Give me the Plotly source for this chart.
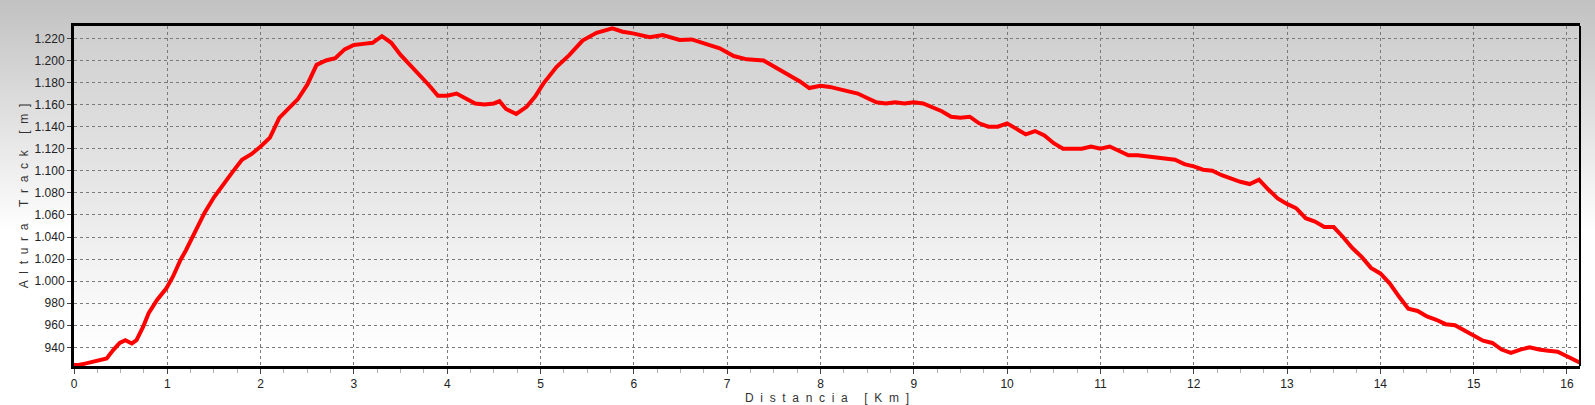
import base64
import struct
import zlib

import plotly.graph_objects as go

# ---------------- data ----------------
dist_km = [0.0, 0.05, 0.13, 0.2, 0.24, 0.3, 0.35, 0.42, 0.49, 0.55, 0.62, 0.67, 0.74, 0.8, 0.89,
           0.99, 1.06, 1.14, 1.2, 1.3, 1.4, 1.5, 1.6, 1.7, 1.8, 1.9, 2.0, 2.1, 2.2, 2.3, 2.4,
           2.5, 2.6, 2.7, 2.8, 2.9, 3.0, 3.1, 3.2, 3.3, 3.4, 3.5, 3.6, 3.7, 3.8, 3.9, 4.0,
           4.1, 4.2, 4.3, 4.4, 4.5, 4.56, 4.63, 4.74, 4.85, 4.94, 5.03, 5.17, 5.31, 5.45, 5.6,
           5.77, 5.88, 5.99, 6.17, 6.31, 6.49, 6.62, 6.78, 6.92, 7.07, 7.21, 7.39, 7.53, 7.67,
           7.78, 7.88, 8.0, 8.1, 8.2, 8.3, 8.4, 8.5, 8.6, 8.7, 8.8, 8.9, 9.0, 9.1, 9.2, 9.3,
           9.4, 9.5, 9.6, 9.7, 9.8, 9.9, 10.0, 10.1, 10.2, 10.3, 10.4, 10.5, 10.6, 10.7, 10.8,
           10.9, 11.0, 11.1, 11.2, 11.3, 11.4, 11.5, 11.6, 11.7, 11.8, 11.9, 12.0, 12.1, 12.2,
           12.3, 12.4, 12.5, 12.6, 12.7, 12.8, 12.9, 13.0, 13.1, 13.2, 13.3, 13.4, 13.5, 13.6,
           13.7, 13.8, 13.9, 14.0, 14.1, 14.2, 14.3, 14.4, 14.5, 14.6, 14.7, 14.8, 14.9, 15.0,
           15.1, 15.2, 15.3, 15.4, 15.5, 15.6, 15.7, 15.8, 15.9, 16.0, 16.14]
alt_m = [924, 924, 925.5, 927, 928.5, 929, 930, 937.5, 944, 946.5, 943.5, 946.5, 958.5, 971, 983,
         993.5, 1004, 1019, 1028, 1045, 1062, 1076, 1088, 1099, 1110, 1115, 1122, 1130, 1148, 1157, 1165,
         1178, 1196, 1200, 1202, 1210, 1214, 1215, 1216, 1222, 1216, 1205, 1196, 1188, 1178, 1168, 1168,
         1170, 1165, 1161, 1160, 1161, 1163, 1156, 1151.5, 1158, 1167, 1179, 1194, 1205, 1218, 1225,
         1229, 1226, 1224.5, 1221, 1223, 1218.5, 1219, 1215, 1211, 1204, 1201, 1200, 1193, 1187,
         1181, 1175, 1177, 1176, 1174, 1172, 1170, 1166, 1162, 1161, 1162, 1161, 1162, 1161, 1157, 1154,
         1149, 1148, 1149, 1143, 1140, 1140, 1143, 1138, 1133, 1136, 1132, 1125, 1120, 1120, 1120,
         1122, 1120, 1122, 1118, 1114, 1114, 1113, 1112, 1111, 1110, 1106, 1104, 1101, 1100,
         1096, 1093, 1090, 1088, 1092, 1083, 1075, 1070, 1066, 1057, 1054, 1049, 1049, 1040,
         1030, 1022, 1012, 1007, 998, 986, 975, 973, 968, 965, 961, 960, 955, 950,
         946, 944, 938, 935, 938, 940, 938, 937, 936, 932, 926]

y_tick_vals = list(range(940, 1221, 20))
y_tick_text = [f"{v:,}".replace(",", ".") for v in y_tick_vals]
x_tick_vals = list(range(0, 17))

x_title = "Distancia [Km]"
y_title = "Altura Track [m]"


def spaced(s, gap="\u00a0\u00a0"):
    return gap.join("\u00a0" if ch == " " else ch for ch in s)


# ---------------- gradient backgrounds (tiny PNGs) ----------------
def gray_png(values, width=4):
    raw = b"".join(b"\x00" + bytes([v]) * width for v in values)

    def chunk(tag, data):
        c = tag + data
        return struct.pack(">I", len(data)) + c + struct.pack(">I", zlib.crc32(c) & 0xFFFFFFFF)

    png = (b"\x89PNG\r\n\x1a\n"
           + chunk(b"IHDR", struct.pack(">IIBBBBB", width, len(values), 8, 0, 0, 0, 0))
           + chunk(b"IDAT", zlib.compress(raw, 9))
           + chunk(b"IEND", b""))
    return "data:image/png;base64," + base64.b64encode(png).decode()


W, H = 1595, 405
L, R, T, B = 74, 15, 26, 39
PW, PH = W - L - R, H - T - B

paper_vals = [int(min(255, 194 + 61 * (y / 230.0))) for y in range(H)]
plot_vals = [int(min(255, 207 + 48 * (y / float(PH - 20)))) for y in range(PH)]

fig = go.Figure()
fig.add_trace(go.Scatter(
    x=dist_km, y=alt_m, mode="lines",
    line=dict(color="#ff0000", width=4, shape="linear"),
    hoverinfo="x+y", showlegend=False,
))

fig.update_layout(
    width=W, height=H,
    margin=dict(l=L, r=R, t=T, b=B, pad=0),
    paper_bgcolor="white",
    plot_bgcolor="rgba(0,0,0,0)",
    font=dict(family="Liberation Sans, Arial, sans-serif", size=12, color="#222"),
    images=[
        dict(source=gray_png(paper_vals), xref="paper", yref="paper",
             x=-L / PW, y=1 + T / PH, sizex=W / PW, sizey=H / PH,
             sizing="stretch", layer="below", xanchor="left", yanchor="top"),
        dict(source=gray_png(plot_vals), xref="paper", yref="paper",
             x=0, y=1, sizex=1, sizey=1,
             sizing="stretch", layer="below", xanchor="left", yanchor="top"),
    ],
    shapes=[dict(type="line", xref="paper", yref="paper", x0=1, x1=1, y0=0, y1=1,
                 line=dict(color="black", width=2))],
)

fig.update_xaxes(
    range=[0, 16.14], tickvals=x_tick_vals, ticks="outside", ticklen=5, tickcolor="#444",
    showline=True, linecolor="black", linewidth=3, mirror=True, automargin=False,
    showgrid=True, gridcolor="#7a7a7a", gridwidth=1, griddash="3px,3px",
    zeroline=False, tickfont=dict(size=12, color="#222"),
    minor=dict(dtick=0.25, tick0=0, ticks="outside", ticklen=4, tickcolor="#b0b0b0", showgrid=False),
    title=dict(text=spaced(x_title), font=dict(size=12, color="#333"), standoff=1),
)
fig.update_yaxes(
    range=[923.1, 1231.2], tickvals=y_tick_vals, ticktext=y_tick_text,
    ticks="outside", ticklen=4, tickcolor="#444",
    showline=True, linecolor="black", linewidth=3, mirror=False, automargin=False,
    showgrid=True, gridcolor="#7a7a7a", gridwidth=1, griddash="3px,3px",
    zeroline=False, tickfont=dict(size=12, color="#222"),
    title=dict(text=spaced(y_title), font=dict(size=12, color="#333"), standoff=4),
)

fig.write_html(
    "out.html",
    config={"displayModeBar": False},
    post_script="document.body.style.margin='0';document.body.style.overflow='hidden';",
)
